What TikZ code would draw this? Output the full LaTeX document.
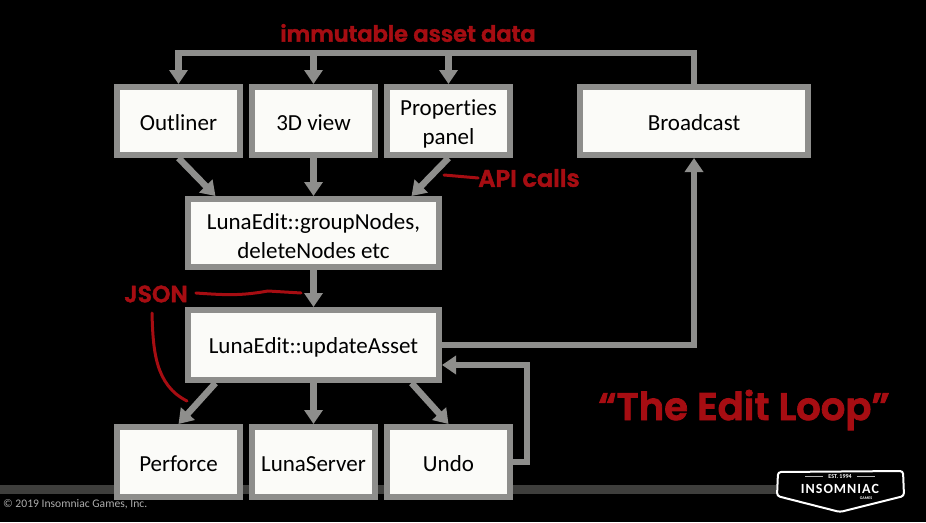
\documentclass[tikz,border=0pt]{standalone}
\usepackage{fontspec}
\usepackage{xcolor}
\usetikzlibrary{arrows.meta,positioning,calc}
\setmainfont[Ligatures=NoCommon]{Carlito}
\newfontfamily\markerfont[FakeBold=2]{Poppins SemiBold}
\definecolor{linegray}{HTML}{8E8E8C}
\definecolor{boxwhite}{HTML}{FBFBF8}
\definecolor{inkred}{HTML}{A60D12}
\definecolor{barshade}{HTML}{3E3E3C}
\newcommand{\lowerfirst}{\rule{0pt}{22pt}}
\tikzset{
  box/.style={draw=linegray,line width=6pt,fill=boxwhite,align=center,text=black,
              minimum width=123pt,minimum height=68pt,inner sep=0pt,
              font=\fontsize{23}{29}\selectfont},
  boxone/.style={box,execute at begin node={\rule{0pt}{20pt}}},
  boxw/.style={boxone,minimum width=251pt},
  fl/.style={draw=linegray,line width=6.5pt,-{Triangle[length=14pt,width=18pt]}},
  note/.style={text=inkred,font=\markerfont\fontsize{22.5}{26}\selectfont,inner sep=0pt},
  inkline/.style={draw=inkred,line width=3pt,line cap=round},
  logotxt/.style={text=white,inner sep=0pt},
}
\begin{document}
\begin{tikzpicture}[x=1pt, y=-1pt]
  \useasboundingbox[fill=black] (0,0) rectangle (926,522);
  \fill[barshade] (0,485) rectangle (776,494);
  % top row
  \node[boxone] (outliner) at (178.5,121) {Outliner};
  \node[boxone] (view) at (313.5,121) {3D view};
  \node[box] (props) at (448.5,121) {\lowerfirst Properties\\panel};
  \node[boxone, minimum width=228pt] (broadcast) at (694,121) {Broadcast};
  % middle
  \node[box, minimum width=251pt] (group) at (313.5,233) {\lowerfirst LunaEdit::groupNodes,\\deleteNodes etc};
  \node[boxw, minimum height=70pt] (update) at (313.5,345) {LunaEdit::updateAsset};
  % bottom row
  \node[boxone, minimum height=70pt] (perforce) at (178.5,462) {Perforce};
  \node[boxone, minimum height=70pt] (server) at (313.5,462) {LunaServer};
  \node[boxone, minimum height=70pt] (undo) at (448.5,462) {Undo};
  % immutable data bus
  \coordinate (bus) at (313.5,53);
  \draw[fl] (broadcast.north) |- (bus) -| (outliner.north);
  \draw[fl] (bus) -- (view.north);
  \draw[fl] (bus -| props.north) -- (props.north);
  % api calls
  \draw[fl] (outliner.south) -- ([xshift=-98pt]group.north);
  \draw[fl] (view.south) -- (group.north);
  \draw[fl] (props.south) -- ([xshift=98pt]group.north);
  \draw[fl] (group.south) -- (update.north);
  % fan out
  \draw[fl] ([xshift=-98pt]update.south) -- (perforce.north);
  \draw[fl] (update.south) -- (server.north);
  \draw[fl] ([xshift=98pt]update.south) -- (undo.north);
  \draw[fl] (update.east) -| (broadcast.south);
  \coordinate (back) at (527,365);
  \draw[fl] (undo.east) -| (back) -- (back -| update.east);
  % red notes
  \node[note] (immut) at (408,33) {immutable asset data};
  \node[note, font=\markerfont\fontsize{24}{26}\selectfont] (api) at (529,178) {API calls};
  \node[note, font=\markerfont\fontsize{23.5}{26}\selectfont] (json) at (156,294) {JSON};
  \node[note, font=\markerfont\fontsize{38.5}{42}\selectfont] (loop) at (744,410) {“The Edit Loop”};
  \coordinate (apistart) at (444,175);
  \draw[inkline] (apistart) -- (api.west);
  \coordinate (jsonend) at (301,293);
  \draw[inkline] (json.east) ++(8,-1) .. controls (225,295) and (240,296) .. (268,291) -- (jsonend);
  \coordinate (jsona) at (152,313);
  \coordinate (jsonb) at (187,401);
  \draw[inkline] (jsona) .. controls (153,350) and (155,385) .. (jsonb);
  % footer
  \node[text=white!68!black, anchor=west, inner sep=0pt, font=\fontsize{11.6}{14}\selectfont] (copy) at (3,504) {© 2019 Insomniac Games, Inc.};
  \draw[white, line width=2pt, rounded corners=3pt, fill=black]
    (778,472) -- (903,471) -- (904,496) -- (840,512) -- (777,496) -- cycle;
  \node[logotxt, font=\bfseries\fontsize{6}{7}\selectfont] (est) at (840,476.5) {EST. 1994};
  \node[logotxt, font=\bfseries\fontsize{14}{16}\selectfont] (brand) at (840,489) {I\kern1pt N\kern1pt S\kern1pt O\kern1pt M\kern1pt N\kern1pt I\kern1pt A\kern1pt C};
  \node[logotxt, font=\bfseries\fontsize{4}{5}\selectfont] (games) at (866,498) {GAMES};
  \draw[white!70!black, line width=.7pt] (est.west) ++(-5,0) -- ++(-18,0);
  \draw[white!70!black, line width=.7pt] (est.east) ++(5,0) -- ++(18,0);
\end{tikzpicture}
\end{document}
